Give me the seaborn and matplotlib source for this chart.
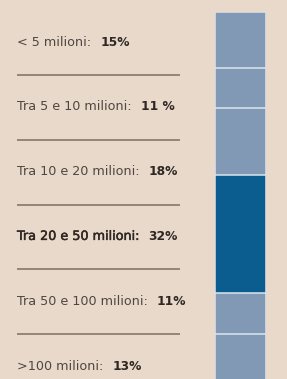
import matplotlib
matplotlib.use("Agg")
import matplotlib.pyplot as plt
import matplotlib.patheffects as pe
import seaborn as sns
import pandas as pd
import numpy as np

# ---- data ----
categories = ["< 5 milioni:", "Tra 5 e 10 milioni:", "Tra 10 e 20 milioni:",
              "Tra 20 e 50 milioni:", "Tra 50 e 100 milioni:", ">100 milioni:"]
shares = [15, 11, 18, 32, 11, 13]
share_labels = ["15%", "11 %", "18%", "32%", "11%", "13%"]
highlight = "Tra 20 e 50 milioni:"

BG = "#e8d9cb"
LIGHT = "#8299b6"
DARK = "#0b5d8f"
EDGE = "#dce6ef"
TXT = "#4e4640"
TXT_B = "#2e2722"
RULE = "#7e6f65"

sns.set_theme(style="white", rc={"figure.facecolor": BG, "axes.facecolor": BG})
plt.rcParams["font.family"] = ["DejaVu Sans"]

W, H = 287, 379
fig = plt.figure(figsize=(W / 100, H / 100), dpi=100)

# ---- labels column ----
tax = fig.add_axes([0, 0, 1, 1])
tax.set_xlim(0, W)
tax.set_ylim(H, 0)
tax.axis("off")

row0, step, x0, x1 = 42, 64.8, 17, 180
for i, (cat, lab) in enumerate(zip(categories, share_labels)):
    y = row0 + i * step
    hl = cat == highlight
    t = tax.text(x0, y, cat, ha="left", va="center", fontsize=9.2,
                 color=TXT_B if hl else TXT)
    if hl:
        t.set_path_effects([pe.Stroke(linewidth=0.35, foreground=TXT_B),
                            pe.Normal()])
    tax.annotate(lab, xy=(1, 0.5), xycoords=t, xytext=(6.5, 0),
                 textcoords="offset points", ha="left", va="center",
                 fontsize=8.8, fontweight="bold", color=TXT_B)
    if i < len(categories) - 1:
        tax.plot([x0, x1], [y + step / 2 + 0.6] * 2, color=RULE, lw=1.1,
                 solid_capstyle="butt")

# ---- stacked bar ----
bax = fig.add_axes([215 / W, 1 - 382 / H, 51 / W, 370 / H])
df = pd.DataFrame({"cat": categories, "cum": np.cumsum(shares), "g": "all"})
palette = {c: (DARK if c == highlight else LIGHT) for c in categories}
sns.barplot(data=df, x="g", y="cum", hue="cat", hue_order=categories[::-1],
            palette=palette, dodge=False, width=1, saturation=1,
            edgecolor=EDGE, linewidth=1.1, legend=False, ax=bax)
bax.set_xlim(-0.5, 0.5)
bax.set_ylim(100, 0)
bax.axis("off")

fig.savefig("out.png", dpi=100, facecolor=BG)
